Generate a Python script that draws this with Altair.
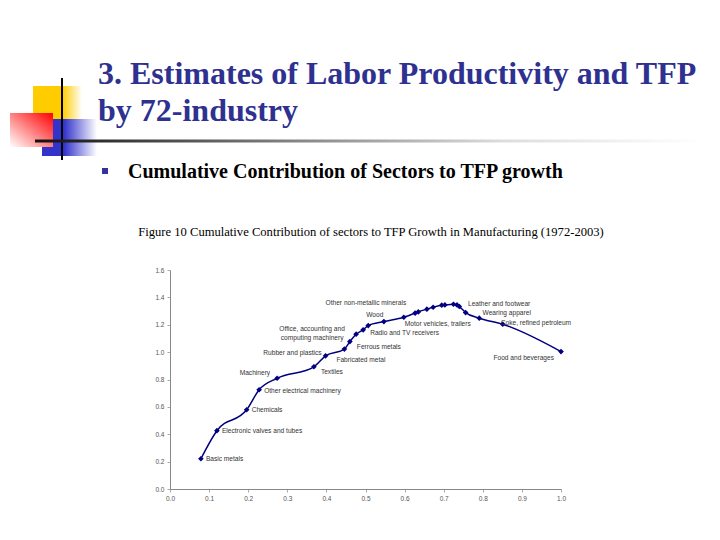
import altair as alt
import pandas as pd

# ---------------- text content ----------------
TITLE_LINE1 = "3. Estimates of Labor Productivity and TFP"
TITLE_LINE2 = "by 72-industry"
BULLET_TEXT = "Cumulative Contribution of Sectors to TFP growth"
CAPTION = "Figure 10 Cumulative Contribution of sectors to TFP Growth in Manufacturing (1972-2003)"

# ---------------- data ----------------
share = [0.079, 0.120, 0.196, 0.228, 0.274, 0.368, 0.398, 0.446, 0.460, 0.476,
         0.494, 0.507, 0.547, 0.598, 0.627, 0.635, 0.657, 0.673, 0.695, 0.703,
         0.725, 0.734, 0.740, 0.756, 0.791, 0.851, 1.000]
cum = [0.221, 0.426, 0.579, 0.725, 0.809, 0.893, 0.973, 1.022, 1.077, 1.131,
       1.163, 1.194, 1.223, 1.255, 1.285, 1.294, 1.314, 1.328, 1.343, 1.345,
       1.350, 1.345, 1.333, 1.289, 1.248, 1.204, 1.004]
sector = ["Basic metals", "Electronic valves and tubes", "Chemicals",
          "Other electrical machinery", "Machinery", "Textiles",
          "Rubber and plastics", "Fabricated metal", "Ferrous metals",
          "Office, accounting and\ncomputing machinery", "Radio and TV receivers",
          "Wood", "Other non-metallic minerals", "Motor vehicles, trailers",
          "", "", "", "", "", "", "", "Leather and footwear", "",
          "Wearing apparel", "", "Coke, refined petroleum", "Food and beverages"]

X_TICKS = [0.0, 0.1, 0.2, 0.3, 0.4, 0.5, 0.6, 0.7, 0.8, 0.9, 1.0]
Y_TICKS = [0.0, 0.2, 0.4, 0.6, 0.8, 1.0, 1.2, 1.4, 1.6]

df = pd.DataFrame({"share": share, "cum": cum, "sector": sector})
df["idx"] = range(len(df))

# ---------------- layout (label placement, pixels) ----------------
LABEL_STYLE = {
    "Basic metals": ("left", 5, 0),
    "Electronic valves and tubes": ("left", 5, 0),
    "Chemicals": ("left", 5, 0),
    "Other electrical machinery": ("left", 5, 1),
    "Machinery": ("right", -7, -5),
    "Textiles": ("left", 7, 5),
    "Rubber and plastics": ("right", -4, -3),
    "Fabricated metal": ("left", -8, 11),
    "Ferrous metals": ("left", 7, 5),
    "Office, accounting and\ncomputing machinery": ("center", -44, -5),
    "Radio and TV receivers": ("left", 7, 3),
    "Wood": ("left", -2, -11),
    "Other non-metallic minerals": ("center", -18, -19),
    "Motor vehicles, trailers": ("left", 1, 7),
    "Leather and footwear": ("left", 11, -1),
    "Wearing apparel": ("left", 17, 0),
    "Coke, refined petroleum": ("left", -2, -1),
    "Food and beverages": ("right", -7, 6),
}

OX, OY = 170, 270  # page position of the plot origin


def px(v):
    return v - OX


def py(v):
    return v - OY


one = pd.DataFrame({"k": [0]})


def grad(stops, x1=0, y1=0, x2=1, y2=0):
    return alt.LinearGradient(
        gradient="linear",
        stops=[alt.GradientStop(color=c, offset=o) for o, c in stops],
        x1=x1, y1=y1, x2=x2, y2=y2,
    )


def deco_rect(x0, y0, x1, y1, fill):
    return alt.Chart(one).mark_rect(fill=fill).encode(
        x=alt.value(px(x0)), x2=alt.value(px(x1)),
        y=alt.value(py(y0)), y2=alt.value(py(y1)),
    )


def page_text(t, x, y, **kw):
    return alt.Chart(pd.DataFrame({"t": [t]})).mark_text(**kw).encode(
        x=alt.value(px(x)), y=alt.value(py(y)), text="t:N"
    )


# slide decoration
yellow = deco_rect(33, 86, 82, 119, grad([(0, "#ffcc00"), (0.6, "#ffcc00"), (1, "#ffffff")]))
blue = deco_rect(42, 119, 97, 156, grad([(0, "#3333cc"), (0.4, "#3333cc"), (1, "#ffffff")]))
red = deco_rect(10, 113, 53, 147, grad([(0, "#ff0000"), (0.5, "#ff8080"), (1, "#ffffff")],
                                        x1=1, y1=0, x2=0, y2=1))
vline = deco_rect(61, 78, 63, 160, "#000000")
hline = deco_rect(35, 139.5, 705, 142.5,
                  grad([(0, "#111111"), (0.4, "#888888"), (0.7, "#dddddd"), (1, "#ffffff")]))
bullet = deco_rect(102, 168, 108, 174, "#333399")

title1 = page_text(TITLE_LINE1, 98, 84, align="left", baseline="alphabetic",
                   font="Liberation Serif", fontWeight="bold", fontSize=32, color="#2e3190")
title2 = page_text(TITLE_LINE2, 98, 121, align="left", baseline="alphabetic",
                   font="Liberation Serif", fontWeight="bold", fontSize=32, color="#2e3190")
bullet_t = page_text(BULLET_TEXT, 128, 178, align="left", baseline="alphabetic",
                     font="Liberation Serif", fontWeight="bold", fontSize=20, color="#000000")
caption = page_text(CAPTION, 371, 236, align="center", baseline="alphabetic",
                    font="Liberation Serif", fontSize=12.6, color="#000000")

# ---------------- chart ----------------
X = alt.X("share:Q", scale=alt.Scale(domain=[0, 1], nice=False),
          axis=alt.Axis(values=X_TICKS, format=".1f", title=None))
Y = alt.Y("cum:Q", scale=alt.Scale(domain=[0, 1.6], nice=False),
          axis=alt.Axis(values=Y_TICKS, format=".1f", title=None))

base = alt.Chart(df)
line = base.mark_line(color="#000080", strokeWidth=1.5, interpolate="monotone").encode(x=X, y=Y)
pts = base.mark_point(shape="diamond", filled=True, size=32, color="#000080", opacity=1).encode(x=X, y=Y)

label_layers = []
for i, name in enumerate(sector):
    if not name:
        continue
    al, dx, dy = LABEL_STYLE[name]
    label_layers.append(
        base.transform_filter(alt.datum.idx == i).mark_text(
            align=al, baseline="middle", dx=dx, dy=dy, fontSize=6.6,
            font="Liberation Sans", color="#333333", lineBreak="\n",
        ).encode(x=X, y=Y, text="sector:N")
    )

chart = alt.layer(
    yellow, blue, red, vline, hline, bullet,
    title1, title2, bullet_t, caption,
    line, pts, *label_layers,
).properties(
    width=391, height=219,
    autosize=alt.AutoSizeParams(type="none"),
    padding={"left": 162, "top": 262, "right": 150, "bottom": 40},
).configure_axis(
    grid=False, domainColor="#888888", tickColor="#aaaaaa", tickSize=3,
    labelColor="#555555", labelFont="Liberation Sans", labelFontSize=6.5,
    labelPadding=3, labelFlush=False,
).configure_view(strokeWidth=0)

chart.save("out.html", embed_options={"renderer": "svg", "actions": False})
